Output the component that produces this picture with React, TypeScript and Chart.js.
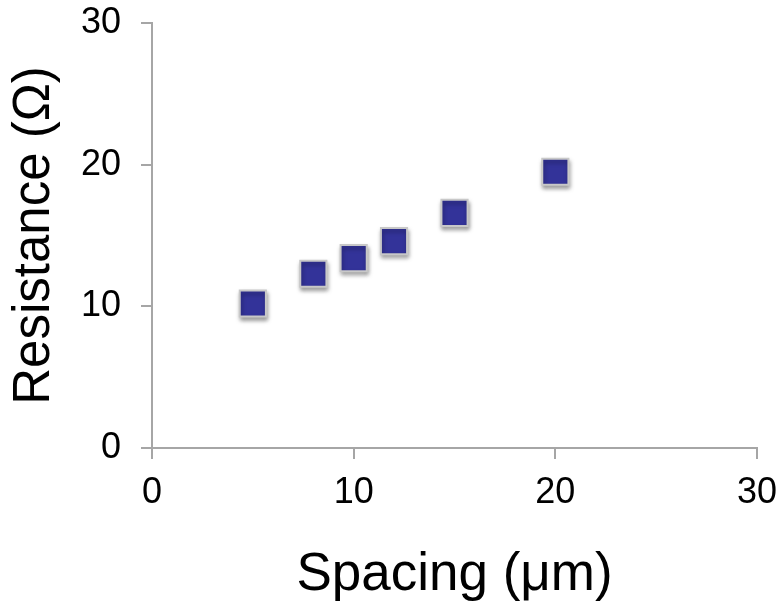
import React, { useEffect, useRef } from "react";
import { Chart, registerables } from "chart.js";

Chart.register(...registerables);

const spacing = [5, 8, 10, 12, 15, 20];
const resistance = [10.2, 12.3, 13.4, 14.6, 16.6, 19.5];
const xTicks = [0, 10, 20, 30];
const yTicks = [0, 10, 20, 30];
const xTitle = "Spacing (μm)";
const yTitle = "Resistance (Ω)";

const FONT = "'Liberation Sans', Arial, Helvetica, sans-serif";
const AXIS = "#a6a6a6";

const shadowPlugin = {
  id: "markerShadow",
  beforeDatasetsDraw(chart: any) {
    const ctx = chart.ctx;
    ctx.save();
    ctx.shadowColor = "rgba(0,0,0,0.35)";
    ctx.shadowBlur = 4;
    ctx.shadowOffsetX = 1;
    ctx.shadowOffsetY = 3;
  },
  afterDatasetsDraw(chart: any) {
    chart.ctx.restore();
  },
};

export default function App() {
  const ref = useRef<HTMLCanvasElement | null>(null);
  useEffect(() => {
    if (!ref.current) return;
    const chart = new Chart(ref.current, {
      type: "scatter",
      data: {
        datasets: [
          {
            data: spacing.map((x, i) => ({ x, y: resistance[i] })),
            pointStyle: "rect",
            pointRadius: 18.5,
            pointHoverRadius: 18.5,
            backgroundColor: "#333399",
            borderColor: "#c8c8c8",
            borderWidth: 2,
          },
        ],
      },
      plugins: [shadowPlugin],
      options: {
        animation: false,
        responsive: false,
        maintainAspectRatio: false,
        layout: { padding: { top: 23, right: 24, left: 0, bottom: 0 } },
        plugins: { legend: { display: false }, tooltip: { enabled: false } },
        scales: {
          x: {
            type: "linear",
            min: 0,
            max: 30,
            afterBuildTicks: (s: any) => {
              s.ticks = xTicks.map((v) => ({ value: v }));
            },
            afterFit: (s: any) => {
              s.height = 159;
              s.paddingLeft = 0;
              s.paddingRight = 0;
            },
            grid: { drawOnChartArea: false, drawTicks: true, tickLength: 11, color: AXIS, lineWidth: 2 },
            border: { display: true, color: AXIS, width: 2 },
            ticks: { color: "#000", font: { family: FONT, size: 36 }, padding: 12 },
            title: {
              display: true,
              text: xTitle,
              color: "#000",
              font: { family: FONT, size: 53 },
              padding: { top: 8, bottom: 0 },
            },
          },
          y: {
            type: "linear",
            min: 0,
            max: 30,
            afterBuildTicks: (s: any) => {
              s.ticks = yTicks.map((v) => ({ value: v }));
            },
            afterFit: (s: any) => {
              s.width = 152;
              s.paddingTop = 0;
              s.paddingBottom = 0;
            },
            grid: { drawOnChartArea: false, drawTicks: true, tickLength: 11, color: AXIS, lineWidth: 2 },
            border: { display: true, color: AXIS, width: 2 },
            ticks: { color: "#000", font: { family: FONT, size: 36 }, padding: 20 },
            title: {
              display: true,
              text: yTitle,
              color: "#000",
              font: { family: FONT, size: 51 },
              padding: { top: 4, bottom: 0 },
            },
          },
        },
      },
    });
    return () => chart.destroy();
  }, []);
  return (
    <div style={{ position: "fixed", left: 0, top: 0, width: 781, height: 607, background: "#fff" }}>
      <canvas ref={ref} width={781} height={607} style={{ width: 781, height: 607 }} />
    </div>
  );
}
